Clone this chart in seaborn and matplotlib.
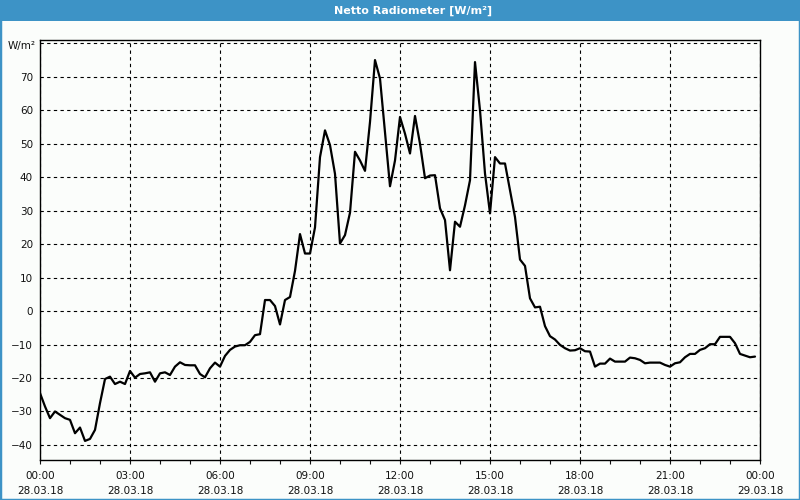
import numpy as np
import pandas as pd
import matplotlib
matplotlib.use("Agg")
import matplotlib.pyplot as plt
import matplotlib.dates as mdates
from matplotlib.patches import Rectangle
import seaborn as sns

# ---- data -------------------------------------------------------------
title = "Netto Radiometer [W/m²]"
unit_label = "W/m²"
start_time = "2018-03-28 00:00"
end_time = "2018-03-29 00:00"
sample_freq = "10min"
y_ticks = [-40, -30, -20, -10, 0, 10, 20, 30, 40, 50, 60, 70]
values = [
    -24.5, -28.5, -32.0, -30.0, -31.0, -32.0, -32.5, -36.5, -34.8, -38.8,
    -38.2, -35.5, -27.5, -20.3, -19.6, -21.8, -21.1, -21.8, -17.9, -19.9,
    -18.8, -18.6, -18.3, -21.1, -18.6, -18.3, -19.1, -16.6, -15.3, -16.1,
    -16.2, -16.2, -18.8, -19.8, -17.1, -15.4, -16.6, -13.4, -11.6, -10.6,
    -10.2, -10.2, -9.2, -7.2, -6.9, 3.3, 3.3, 1.5, -4.0, 3.3,
    4.2, 12.0, 23.0, 17.2, 17.2, 25.0, 46.0, 54.0, 49.6, 41.0,
    20.2, 22.7, 29.4, 47.6, 45.0, 41.9, 56.5, 75.0, 69.5, 53.5,
    37.3, 45.0, 58.0, 53.0, 47.1, 58.3, 50.0, 39.7, 40.5, 40.6,
    30.7, 27.2, 12.2, 26.7, 25.2, 31.6, 39.1, 74.4, 60.0, 41.1,
    29.2, 46.0, 44.1, 44.1, 36.1, 28.1, 15.4, 13.5, 3.8, 1.1,
    1.3, -4.5, -7.5, -8.5, -10.1, -11.1, -11.8, -11.7, -11.1, -12.0,
    -12.1, -16.6, -15.7, -15.7, -14.2, -15.1, -15.1, -15.1, -13.9, -14.1,
    -14.6, -15.6, -15.4, -15.4, -15.4, -16.1, -16.6, -15.6, -15.3, -13.8,
    -12.8, -12.8, -11.6, -11.1, -9.9, -9.9, -7.7, -7.7, -7.7, -9.6,
    -12.8, -13.3, -13.8, -13.6,
]
times = pd.date_range(start_time, periods=len(values), freq=sample_freq)
df = pd.DataFrame({"time": times, "value": values})

# ---- style ------------------------------------------------------------
sns.set_style("white")
plt.rcParams["font.family"] = ["DejaVu Sans"]
bg = "#fbfdfb"
blue = "#3d93c6"

fig = plt.figure(figsize=(8, 5), dpi=100, facecolor=bg)
ax = fig.add_axes([40 / 800, 40 / 500, 720 / 800, 420 / 500])
ax.set_facecolor(bg)

sns.lineplot(data=df, x="time", y="value", ax=ax, color="black",
             linewidth=1.6, legend=False)

ax.set_xlim(pd.Timestamp(start_time), pd.Timestamp(end_time))
ax.set_ylim(-44.5, 81)

ax.set_yticks(y_ticks)
ax.set_yticks([80], minor=True)
ax.xaxis.set_major_locator(mdates.HourLocator(byhour=range(0, 24, 3)))
ax.xaxis.set_minor_locator(mdates.HourLocator())
ax.xaxis.set_major_formatter(mdates.DateFormatter("%H:%M\n%d.%m.%y"))

ax.grid(True, which="major", color="black", linestyle=(0, (3, 3)), linewidth=0.8)
ax.yaxis.grid(True, which="minor", color="black", linestyle=(0, (3, 3)), linewidth=0.8)
ax.set_axisbelow(True)

ax.tick_params(axis="y", which="both", length=0, pad=5, labelsize=7.5, colors="#111111")
ax.tick_params(axis="x", which="both", direction="out", length=3, width=0.8,
               bottom=True, pad=5, labelsize=7.5, colors="#111111")
for lbl in ax.get_xticklabels():
    lbl.set_linespacing(1.6)

for s in ax.spines.values():
    s.set_color("black")
    s.set_linewidth(1.0)

ax.set_xlabel("")
ax.set_ylabel("")

# unit label at top-left
fig.text(36 / 800, 1 - 46 / 500, unit_label, ha="right", va="center",
         fontsize=7.5, color="#111111")

# title bar
fig.patches.append(Rectangle((0, 1 - 21 / 500), 1, 21 / 500, transform=fig.transFigure,
                             facecolor=blue, edgecolor="none", zorder=0))
fig.text(413 / 800, 1 - 10.5 / 500, title, ha="center", va="center",
         fontsize=8, fontweight="bold", color="white")
# window border
fig.patches.append(Rectangle((0, 0), 1, 1, transform=fig.transFigure,
                             facecolor="none", edgecolor=blue, linewidth=2.5, zorder=5))

fig.savefig("out.png", dpi=100, facecolor=bg)
